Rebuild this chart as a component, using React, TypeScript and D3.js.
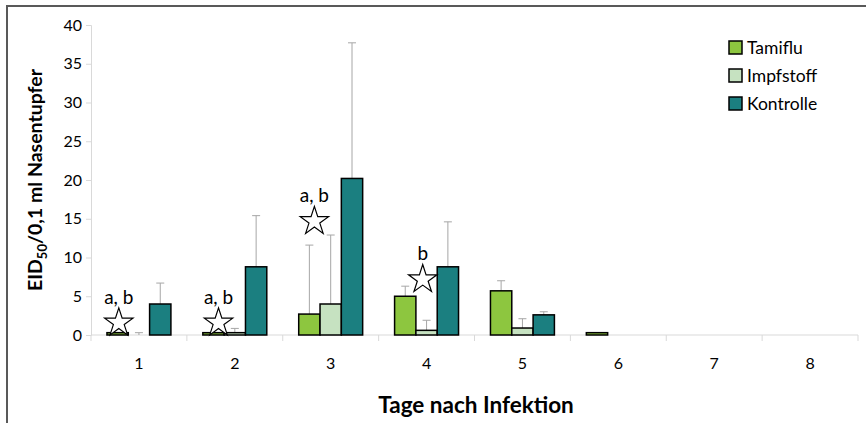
import { useEffect, useRef } from 'react';
import * as d3 from 'd3';

const days = ['1', '2', '3', '4', '5', '6', '7', '8'];
const seriesNames = ['Tamiflu', 'Impfstoff', 'Kontrolle'];
const seriesColors = ['#8dc63f', '#c6e2c1', '#1b7f80'];

const tamiflu = [0.3, 0.3, 2.7, 5.0, 5.7, 0.3, 0, 0];
const tamifluSd = [0, 0, 8.9, 1.3, 1.3, 0, 0, 0];
const impfstoff = [0, 0.3, 4.0, 0.6, 0.9, 0, 0, 0];
const impfstoffSd = [0.3, 0.55, 8.9, 1.3, 1.2, 0, 0, 0];
const kontrolle = [4.0, 8.8, 20.2, 8.8, 2.6, 0, 0, 0];
const kontrolleSd = [2.7, 6.6, 17.5, 5.8, 0.4, 0, 0, 0];

const yTicks = [0, 5, 10, 15, 20, 25, 30, 35, 40];

// significance marks: day, height of the star (in data units), label
const markDays = ['1', '2', '3', '4'];
const markLevels = [1.7, 1.7, 14.8, 7.3];
const markLabels = ['a, b', 'a, b', 'a, b', 'b'];
const markShift = [-0.21, -0.17, -0.17, -0.04]; // fraction of a category

export default function App() {
    const svgRef = useRef<SVGSVGElement>(null);
    const width = 866;
    const height = 423;

    useEffect(() => {
        if (!svgRef.current) return;
        d3.select(svgRef.current).selectAll('*').remove();
        const svg = d3.select(svgRef.current);
        const font = 'Lato, "Open Sans", sans-serif';

        const left = 91, right = 858, top = 25, bottom = 335;

        const x = d3.scaleBand<string>()
            .domain(days)
            .range([left, right])
            .paddingInner(0.333)
            .paddingOuter(0.1665);
        const xs = d3.scaleBand<string>()
            .domain(seriesNames)
            .range([0, x.bandwidth()]);
        const y = d3.scaleLinear().domain([0, 40]).range([bottom, top]);

        // frame (top + left edge only)
        svg.append('path')
            .attr('d', `M7,${height} V6 H${width}`)
            .attr('fill', 'none')
            .attr('stroke', '#595959')
            .attr('stroke-width', 2);

        // y axis
        const yAxis = svg.append('g')
            .attr('transform', `translate(${left},0)`)
            .call(d3.axisLeft(y).tickValues(yTicks).tickSize(5).tickPadding(4));
        yAxis.select('.domain').attr('stroke', '#d9d9d9');
        yAxis.selectAll('.tick line').attr('stroke', '#d9d9d9');
        yAxis.selectAll('.tick text')
            .attr('fill', '#000')
            .style('font-family', font)
            .style('font-size', '16px');

        // x axis
        const step = x.step();
        const xAxis = svg.append('g');
        xAxis.append('line')
            .attr('x1', left).attr('x2', right)
            .attr('y1', bottom).attr('y2', bottom)
            .attr('stroke', '#d9d9d9');
        xAxis.selectAll('line.tk')
            .data(d3.range(days.length + 1))
            .join('line')
            .attr('class', 'tk')
            .attr('x1', i => left + i * step).attr('x2', i => left + i * step)
            .attr('y1', bottom).attr('y2', bottom + 6)
            .attr('stroke', '#d9d9d9');
        xAxis.selectAll('text')
            .data(days)
            .join('text')
            .attr('x', d => x(d)! + x.bandwidth() / 2)
            .attr('y', bottom + 34)
            .attr('text-anchor', 'middle')
            .style('font-family', font)
            .style('font-size', '16px')
            .text(d => d);

        const values = [tamiflu, impfstoff, kontrolle];
        const sds = [tamifluSd, impfstoffSd, kontrolleSd];
        const rows = seriesNames.flatMap((s, si) =>
            days.map((d, di) => ({ s, si, d, v: values[si][di], sd: sds[si][di] })));

        // error bars (upper only)
        const err = svg.append('g').attr('stroke', '#a6a6a6').attr('stroke-width', 1);
        rows.filter(r => r.sd > 0).forEach(r => {
            const cx = x(r.d)! + xs(r.s)! + xs.bandwidth() / 2;
            err.append('line')
                .attr('x1', cx).attr('x2', cx)
                .attr('y1', y(r.v)).attr('y2', y(r.v + r.sd));
            err.append('line')
                .attr('x1', cx - 4).attr('x2', cx + 4)
                .attr('y1', y(r.v + r.sd)).attr('y2', y(r.v + r.sd));
        });

        // bars
        svg.append('g')
            .selectAll('rect')
            .data(rows.filter(r => r.v > 0))
            .join('rect')
            .attr('x', r => x(r.d)! + xs(r.s)!)
            .attr('width', xs.bandwidth())
            .attr('y', r => y(r.v))
            .attr('height', r => y(0) - y(r.v))
            .attr('fill', r => seriesColors[r.si])
            .attr('stroke', '#000')
            .attr('stroke-width', 1.5);

        // stars + labels
        const star = d3.symbol(d3.symbolStar).size(250);
        markDays.forEach((d, i) => {
            const cx = x(d)! + x.bandwidth() / 2 + markShift[i] * step;
            const cy = y(markLevels[i]);
            svg.append('path')
                .attr('d', star()!)
                .attr('transform', `translate(${cx},${cy + 1})`)
                .attr('fill', '#fff')
                .attr('stroke', '#000')
                .attr('stroke-width', 1.2);
            svg.append('text')
                .attr('x', cx)
                .attr('y', cy - 18)
                .attr('text-anchor', 'middle')
                .style('font-family', font)
                .style('font-size', '19px')
                .text(markLabels[i]);
        });

        // legend
        const legend = svg.append('g').attr('transform', 'translate(729,41)');
        seriesNames.forEach((s, i) => {
            legend.append('rect')
                .attr('x', 0).attr('y', i * 28)
                .attr('width', 13).attr('height', 13)
                .attr('fill', seriesColors[i])
                .attr('stroke', '#000')
                .attr('stroke-width', 1.5);
            legend.append('text')
                .attr('x', 18).attr('y', i * 28 + 13)
                .style('font-family', font)
                .style('font-size', '17.5px')
                .text(s);
        });

        // y title
        const yt = svg.append('text')
            .attr('transform', 'translate(42,180) rotate(-90)')
            .attr('text-anchor', 'middle')
            .style('font-family', font)
            .style('font-size', '19.5px')
            .style('font-weight', 'bold');
        yt.append('tspan').text('EID');
        yt.append('tspan').attr('dy', 5).style('font-size', '13px').text('50');
        yt.append('tspan').attr('dy', -5).text('/0,1 ml Nasentupfer');

        // x title
        svg.append('text')
            .attr('x', 476)
            .attr('y', 413)
            .attr('text-anchor', 'middle')
            .style('font-family', font)
            .style('font-size', '22.5px')
            .style('font-weight', 'bold')
            .text('Tage nach Infektion');
    }, []);

    return (
        <svg
            ref={svgRef}
            width={width}
            height={height}
            style={{ position: 'absolute', left: 0, top: 0, background: '#fff' }}
        />
    );
}
